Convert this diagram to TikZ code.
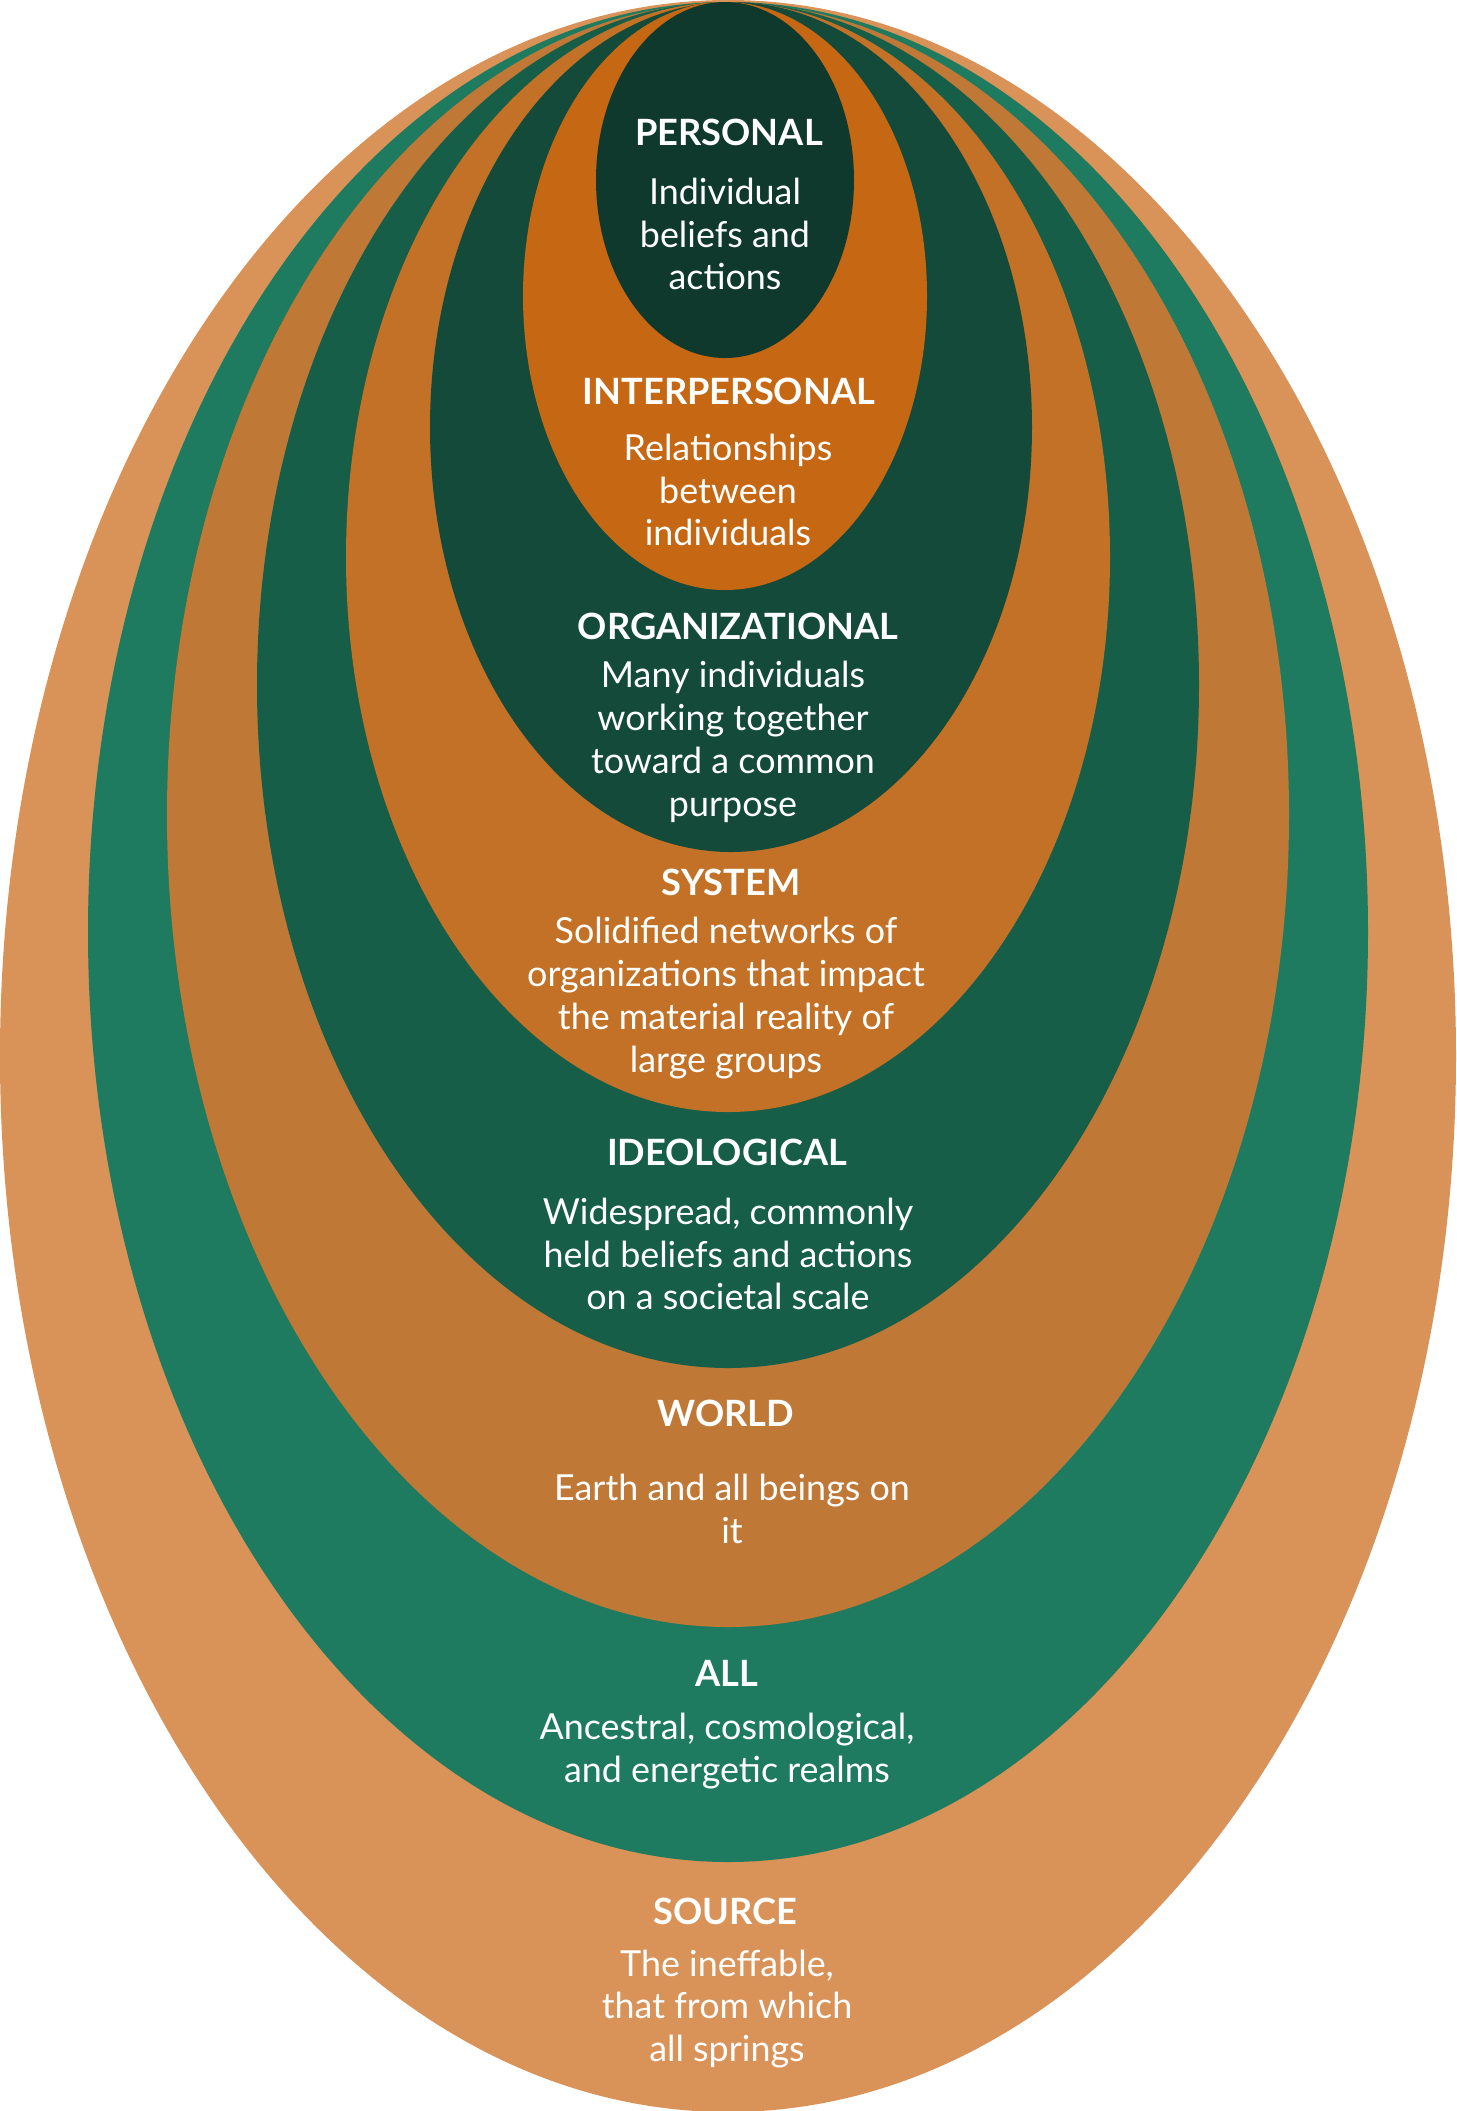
\documentclass[tikz,border=0pt]{standalone}
\usepackage{fontspec}
\setmainfont{Lato}
\usepackage{tikz}

\definecolor{sourcecol}{HTML}{D99257}
\definecolor{allcol}{HTML}{1F7B5F}
\definecolor{worldcol}{HTML}{C07837}
\definecolor{ideocol}{HTML}{175E48}
\definecolor{systemcol}{HTML}{C27126}
\definecolor{orgcol}{HTML}{144A3A}
\definecolor{interpcol}{HTML}{C66713}
\definecolor{personcol}{HTML}{0F392D}

\begin{document}
\begin{tikzpicture}[x=0.01cm, y=-0.01cm,
    ring/.style={fill=#1, draw=none},
    title/.style={text=white, font=\fontsize{10.3}{12.2}\selectfont\bfseries, inner sep=0pt},
    desc/.style={text=white, font=\fontsize{10.2}{12.2}\selectfont, align=center, inner sep=0pt}]

    \useasboundingbox (0,0) rectangle (1456,2111);

    % nested levels, outermost first
    \fill[ring=sourcecol] (728,1056) ellipse [x radius=728, y radius=1056];
    \fill[ring=allcol] (728,932) ellipse [x radius=640, y radius=930];
    \fill[ring=worldcol] (728,815) ellipse [x radius=561, y radius=812];
    \fill[ring=ideocol] (728,685) ellipse [x radius=471, y radius=683];
    \fill[ring=systemcol] (728,557) ellipse [x radius=382, y radius=555];
    \fill[ring=orgcol] (731,427) ellipse [x radius=301, y radius=425];
    \fill[ring=interpcol] (725,296) ellipse [x radius=202, y radius=294];
    \fill[ring=personcol] (725,180) ellipse [x radius=129, y radius=178];

    \node[title] (personalT) at (729,132) {PERSONAL};
    \node[desc] (personalD) at (725,234) {Individual\\ beliefs and\\ actions};

    \node[title] (interpT) at (729,391) {INTERPERSONAL};
    \node[desc] (interpD) at (728,490) {Relationships\\ between\\ individuals};

    \node[title] (orgT) at (738,626) {ORGANIZATIONAL};
    \node[desc] (orgD) at (733,742) {Many individuals\\ working together\\ toward a common\\ purpose};

    \node[title] (systemT) at (731,882) {SYSTEM};
    \node[desc] (systemD) at (726,998) {Solidified networks of\\ organizations that impact\\ the material reality of\\ large groups};

    \node[title] (ideoT) at (727,1152) {IDEOLOGICAL};
    \node[desc] (ideoD) at (728,1254) {Widespread, commonly\\ held beliefs and actions\\ on a societal scale};

    \node[title] (worldT) at (726,1413) {WORLD};
    \node[desc] (worldD) at (732,1509) {Earth and all beings on\\ it};

    \node[title] (allT) at (727,1673) {ALL};
    \node[desc] (allD) at (727,1751) {Ancestral, cosmological,\\ and energetic realms};

    \node[title] (sourceT) at (725,1911) {SOURCE};
    \node[desc] (sourceD) at (727,2009) {The ineffable,\\ that from which\\ all springs};

\end{tikzpicture}
\end{document}
